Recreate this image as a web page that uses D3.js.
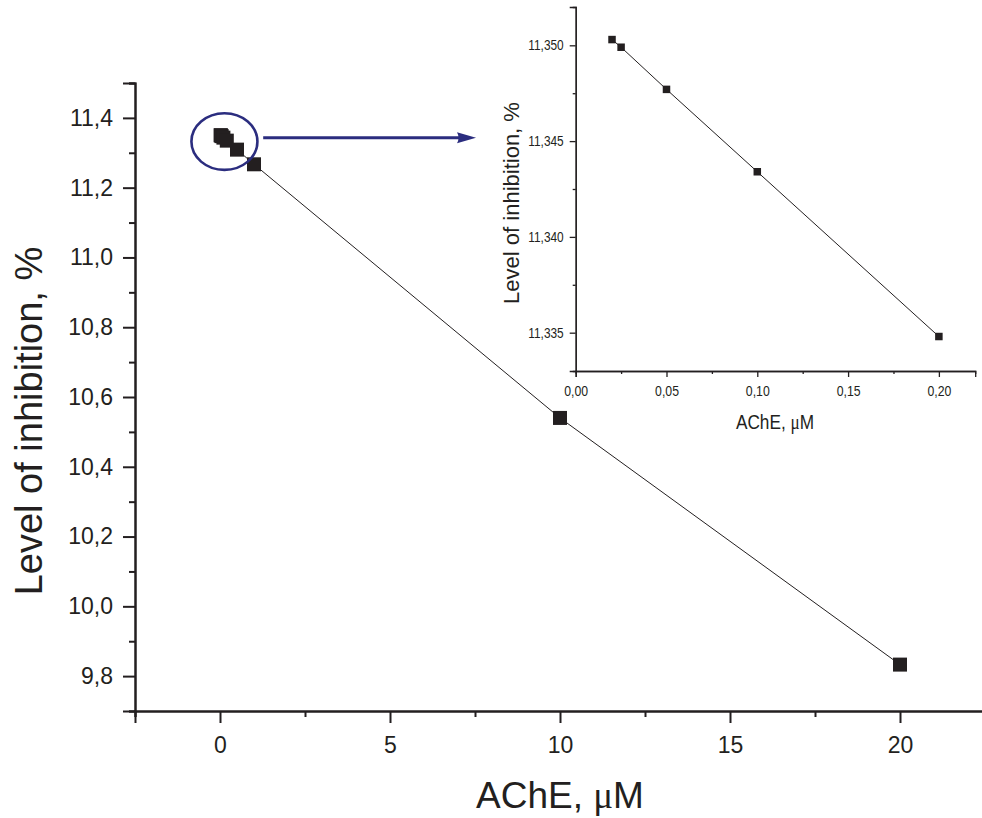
<!DOCTYPE html>
<html><head><meta charset="utf-8">
<script src="https://cdn.jsdelivr.net/npm/d3@7"></script>
<style>
html,body{margin:0;padding:0;background:#fff;}
svg{display:block;}
text{font-family:"Liberation Sans",Arial,sans-serif;fill:#231f20;}
</style></head><body>
<svg id="chart" width="982" height="818"></svg>
<script>
// ---- data ----
const mainX = [0.02, 0.025, 0.05, 0.1, 0.2, 0.5, 1, 10, 20];
const mainY = [11.3503, 11.3499, 11.3477, 11.3434, 11.3348, 11.309, 11.267, 10.540, 9.833];
const insetX = [0.02, 0.025, 0.05, 0.1, 0.2];
const insetY = [11.3503, 11.3499, 11.3477, 11.3434, 11.3348];
const mainXTicks = [0, 5, 10, 15, 20];
const mainXMinor = [-2.5, 2.5, 7.5, 12.5, 17.5, 22.5];
const mainYTicks = [9.8, 10.0, 10.2, 10.4, 10.6, 10.8, 11.0, 11.2, 11.4];
const mainYMinor = [9.7, 9.9, 10.1, 10.3, 10.5, 10.7, 10.9, 11.1, 11.3, 11.5];
const insetXTicks = [0, 0.05, 0.10, 0.15, 0.20];
const insetXMinor = [0.025, 0.075, 0.125, 0.175];
const insetYTicks = [11.335, 11.340, 11.345, 11.350];
const insetYMinor = [11.3375, 11.3425, 11.3475];
const xTitle = "AChE, ";
const yTitle = "Level of inhibition, %";

const svg = d3.select("#chart");
const ink = "#231f20";
const navy = "#2b2d7f";
const comma = f => d => d3.format(f)(d).replace(".", ",");

// ---- main chart ----
const x = d3.scaleLinear().domain([-2.5, 22.5]).range([135, 985]);
const y = d3.scaleLinear().domain([9.7, 11.5]).range([711, 83]);

function styleAxis(g, w) {
  g.select(".domain").attr("stroke", ink).attr("stroke-width", w);
  g.selectAll(".tick line").attr("stroke", ink).attr("stroke-width", w);
}

const gxMinor = svg.append("g").attr("transform", "translate(0,711)")
  .call(d3.axisBottom(x).tickValues(mainXMinor).tickSize(6).tickFormat(""));
styleAxis(gxMinor, 2);
const gx = svg.append("g").attr("transform", "translate(0,711)")
  .call(d3.axisBottom(x).tickValues(mainXTicks).tickSize(12).tickPadding(14).tickFormat(d3.format("d")));
styleAxis(gx, 2);
gx.selectAll("text").attr("font-size", 23).attr("fill", ink).style("font-family", "Liberation Sans, Arial");

const gyMinor = svg.append("g").attr("transform", "translate(135,0)")
  .call(d3.axisLeft(y).tickValues(mainYMinor).tickSize(6).tickFormat(""));
styleAxis(gyMinor, 2);
const gy = svg.append("g").attr("transform", "translate(135,0)")
  .call(d3.axisLeft(y).tickValues(mainYTicks).tickSize(12).tickPadding(10).tickFormat(comma(".1f")));
styleAxis(gy, 2);
gy.selectAll("text").attr("font-size", 23).attr("fill", ink).style("font-family", "Liberation Sans, Arial");

// main line + points
const mainData = mainX.map((v, i) => ({x: v, y: mainY[i]}));
svg.append("path").datum(mainData)
  .attr("fill", "none").attr("stroke", ink).attr("stroke-width", 1)
  .attr("d", d3.line().x(d => x(d.x)).y(d => y(d.y)));
const ms = 14;
svg.append("g").selectAll("rect").data(mainData).join("rect")
  .attr("x", d => x(d.x) - ms / 2).attr("y", d => y(d.y) - ms / 2)
  .attr("width", ms).attr("height", ms).attr("fill", ink);

// titles
const xt = svg.append("text").attr("x", 560).attr("y", 808).attr("text-anchor", "middle")
  .attr("font-size", 37);
xt.append("tspan").text(xTitle);
xt.append("tspan").attr("font-family", "Liberation Serif, Times New Roman, serif").text("\u03bc");
xt.append("tspan").text("M");
svg.append("text").attr("transform", "translate(42,421) rotate(-90)")
  .attr("text-anchor", "middle").attr("font-size", 38).text(yTitle);

// annotation: ellipse around cluster + arrow to inset
const ex = x(0.13), ey = y(11.332);
svg.append("ellipse").attr("cx", ex).attr("cy", ey).attr("rx", 33).attr("ry", 28.3)
  .attr("fill", "none").attr("stroke", navy).attr("stroke-width", 2.6);
const ay = y(11.343), ax0 = x(1.27), ax1 = x(7.53);
svg.append("line").attr("x1", ax0).attr("y1", ay).attr("x2", ax1 - 17).attr("y2", ay)
  .attr("stroke", navy).attr("stroke-width", 3);
svg.append("path")
  .attr("d", `M${ax1 - 19},${ay - 5.5} L${ax1},${ay} L${ax1 - 19},${ay + 5.5} Q${ax1 - 16},${ay} ${ax1 - 19},${ay - 5.5}Z`)
  .attr("fill", navy);

// ---- inset ----
const xi = d3.scaleLinear().domain([0, 0.22]).range([575.7, 975.2]);
const yi = d3.scaleLinear().domain([11.333, 11.352]).range([371, 7]);
const sx = 0.82;

const gixm = svg.append("g").attr("transform", "translate(0,371)")
  .call(d3.axisBottom(xi).tickValues(insetXMinor).tickSize(3).tickFormat(""));
styleAxis(gixm, 1.3);
const gix = svg.append("g").attr("transform", "translate(0,371)")
  .call(d3.axisBottom(xi).tickValues(insetXTicks).tickSize(6).tickPadding(8).tickFormat(comma(".2f")));
styleAxis(gix, 1.3);
gix.selectAll("text").attr("font-size", 15).attr("fill", ink)
  .attr("transform", `scale(${sx},1)`);

const giym = svg.append("g").attr("transform", "translate(575.7,0)")
  .call(d3.axisLeft(yi).tickValues(insetYMinor).tickSize(3).tickFormat(""));
styleAxis(giym, 1.3);
const giy = svg.append("g").attr("transform", "translate(575.7,0)")
  .call(d3.axisLeft(yi).tickValues(insetYTicks).tickSize(6).tickPadding(6).tickFormat(comma(".3f")));
styleAxis(giy, 1.3);
giy.selectAll("text").attr("font-size", 14.5).attr("fill", ink)
  .attr("x", -12 / sx).attr("transform", `scale(${sx},1)`);

const insetData = insetX.map((v, i) => ({x: v, y: insetY[i]}));
svg.append("path").datum(insetData)
  .attr("fill", "none").attr("stroke", ink).attr("stroke-width", 1)
  .attr("d", d3.line().x(d => xi(d.x)).y(d => yi(d.y)));
const is = 7.5;
svg.append("g").selectAll("rect").data(insetData).join("rect")
  .attr("x", d => xi(d.x) - is / 2).attr("y", d => yi(d.y) - is / 2)
  .attr("width", is).attr("height", is).attr("fill", ink);

const ixt = svg.append("text").attr("transform", `translate(775,429) scale(${sx},1)`)
  .attr("text-anchor", "middle").attr("font-size", 21);
ixt.append("tspan").text(xTitle);
ixt.append("tspan").attr("font-family", "Liberation Serif, Times New Roman, serif").text("\u03bc");
ixt.append("tspan").text("M");
svg.append("text").attr("transform", "translate(519,203) rotate(-90)")
  .attr("text-anchor", "middle").attr("font-size", 22).text(yTitle);
</script>
</body></html>
